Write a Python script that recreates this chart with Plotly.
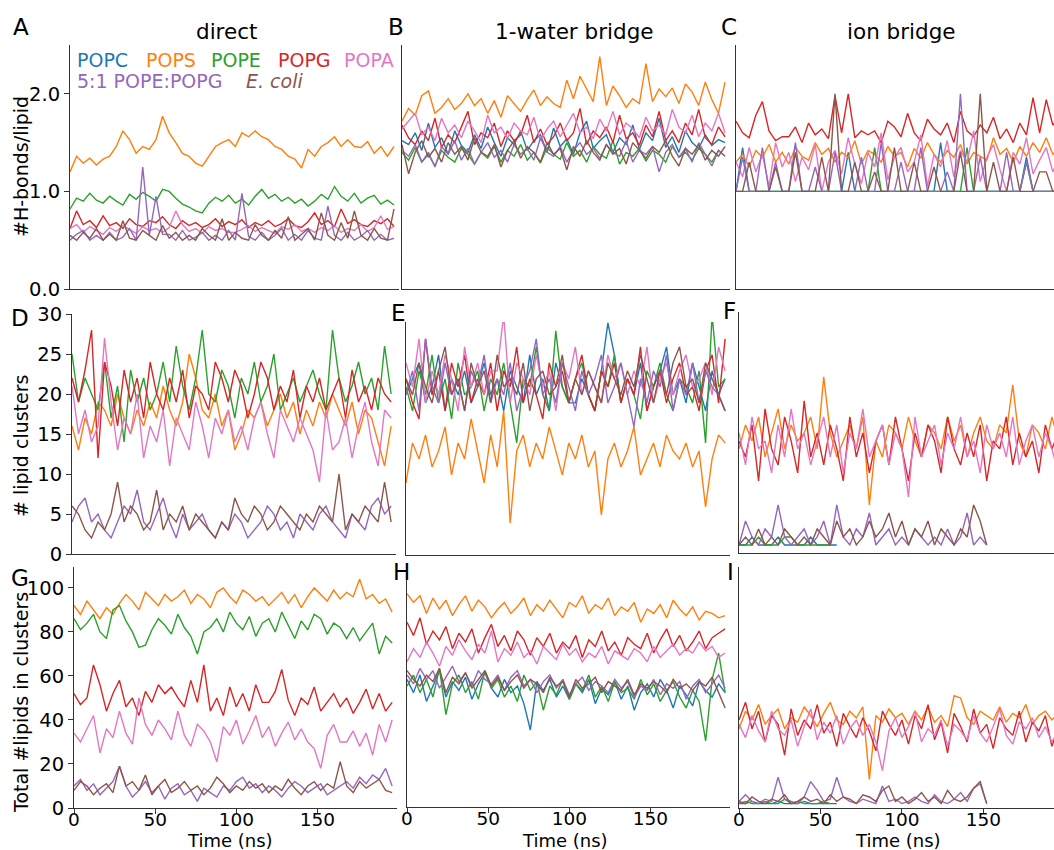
import plotly.graph_objects as go

W, H = 1054, 850
FONT = "DejaVu Sans"

# ---------------- data ----------------
TIME = list(range(0, 200, 4))          # ns, sampled every 4 ns
TIME_SHORT = list(range(0, 153, 4))     # shorter runs (5:1 and E. coli, ion bridge)

LIPIDS = ["POPC", "POPS", "POPE", "POPG", "POPA", "5:1 POPE:POPG", "E. coli"]
COLORS = ["#1f77b4", "#ff7f0e", "#2ca02c", "#d62728", "#e377c2", "#9467bd", "#8c564b"]

# A: direct, H-bonds per lipid
A_POPS = [1.20,1.36,1.29,1.34,1.27,1.33,1.36,1.46,1.62,1.53,
          1.39,1.46,1.43,1.53,1.77,1.60,1.50,1.39,1.36,1.29,
          1.26,1.36,1.46,1.50,1.53,1.46,1.60,1.56,1.62,1.56,
          1.53,1.46,1.43,1.36,1.33,1.24,1.43,1.36,1.46,1.50,
          1.56,1.46,1.53,1.46,1.45,1.51,1.39,1.46,1.36,1.46]
A_POPE = [0.82,0.93,0.90,0.98,0.91,0.88,0.95,0.90,0.86,0.97,
          0.92,0.99,0.95,0.90,1.02,1.00,0.93,0.87,0.84,0.80,
          0.78,0.88,0.94,0.90,0.96,0.88,0.92,0.86,0.95,1.02,
          0.93,0.97,0.90,0.94,0.88,0.92,0.85,0.90,0.97,0.92,
          1.05,0.95,0.90,0.98,0.88,0.93,0.96,0.87,0.91,0.86]
A_POPG = [0.62,0.80,0.66,0.70,0.63,0.75,0.65,0.68,0.62,0.72,
          0.66,0.64,0.70,0.68,0.74,0.66,0.62,0.70,0.65,0.68,
          0.63,0.66,0.72,0.64,0.69,0.66,0.71,0.63,0.68,0.65,
          0.70,0.64,0.67,0.72,0.65,0.63,0.69,0.78,0.66,0.70,
          0.64,0.82,0.67,0.71,0.66,0.64,0.70,0.67,0.72,0.64]
A_POPA = [0.62,0.66,0.58,0.64,0.60,0.56,0.63,0.59,0.65,0.61,
          0.57,0.64,0.60,0.62,0.58,0.63,0.80,0.66,0.59,0.62,
          0.57,0.64,0.60,0.62,0.58,0.58,0.61,0.65,0.59,0.63,
          0.60,0.57,0.64,0.61,0.66,0.59,0.62,0.58,0.63,0.60,
          0.65,0.58,0.62,0.60,0.66,0.59,0.63,0.75,0.61,0.64]
A_MIX = [0.50,0.56,0.60,0.50,0.55,0.50,0.58,0.50,0.53,0.62,
         0.50,1.25,0.55,0.95,0.56,0.56,0.50,0.60,0.50,0.53,
         0.58,0.50,0.55,0.50,0.60,0.50,0.98,0.54,0.50,0.58,
         0.50,0.55,0.62,0.50,0.56,0.50,0.60,0.52,0.50,0.85,
         0.55,0.50,0.58,0.50,0.54,0.60,0.50,0.56,0.50,0.52]
A_ECOLI = [0.55,0.50,0.58,0.52,0.62,0.50,0.56,0.50,0.70,0.52,
           0.50,0.60,0.55,0.50,0.65,0.52,0.58,0.50,0.55,0.50,
           0.62,0.55,0.50,0.72,0.50,0.58,0.52,0.50,0.66,0.55,
           0.50,0.60,0.52,0.74,0.50,0.56,0.62,0.50,0.78,0.55,
           0.50,0.68,0.52,0.80,0.55,0.50,0.62,0.52,0.50,0.82]

# B: 1-water bridge, H-bonds per lipid
B_POPC = [1.52,1.48,1.60,1.42,1.70,1.45,1.55,1.38,1.62,1.47,
          1.40,1.58,1.44,1.66,1.50,1.36,1.55,1.48,1.62,1.42,
          1.52,1.58,1.40,1.65,1.46,1.54,1.38,1.60,1.72,1.44,
          1.52,1.58,1.40,1.55,1.48,1.68,1.43,1.60,1.52,1.75,
          1.45,1.56,1.40,1.62,1.50,1.44,1.58,1.47,1.53,1.50]
B_POPS = [1.72,1.85,1.78,1.98,2.03,1.80,1.86,1.95,1.84,1.90,
          2.00,1.88,1.95,1.80,1.93,1.76,1.98,1.90,1.82,1.94,
          2.04,1.88,1.97,1.90,1.86,2.14,1.95,2.18,2.05,1.92,
          2.38,1.88,2.08,1.98,1.86,1.95,1.90,2.31,1.92,2.05,
          1.97,2.06,1.90,2.10,2.02,1.88,2.12,1.94,1.80,2.12]
B_POPE = [1.40,1.32,1.45,1.30,1.38,1.26,1.42,1.35,1.30,1.44,
          1.38,1.28,1.40,1.34,1.46,1.30,1.42,1.36,1.48,1.32,
          1.40,1.29,1.45,1.38,1.33,1.50,1.36,1.42,1.30,1.46,
          1.38,1.34,1.52,1.28,1.40,1.36,1.44,1.31,1.42,1.38,
          1.30,1.46,1.35,1.40,1.32,1.44,1.38,1.30,1.42,1.36]
B_POPG = [1.68,1.55,1.48,1.62,1.52,1.75,1.45,1.58,1.50,1.66,
          1.82,1.48,1.60,1.55,1.70,1.46,1.62,1.52,1.58,1.78,
          1.50,1.64,1.48,1.56,1.70,1.52,1.60,1.85,1.48,1.62,
          1.55,1.66,1.50,1.78,1.54,1.60,1.47,1.68,1.56,1.82,
          1.52,1.62,1.50,1.70,1.58,1.84,1.55,1.48,1.66,1.56]
B_POPA = [1.64,1.72,1.80,1.58,1.66,1.52,1.75,1.60,1.68,1.55,
          1.72,1.62,1.50,1.78,1.60,1.66,1.54,1.70,1.62,1.58,
          1.76,1.52,1.64,1.72,1.56,1.68,1.80,1.60,1.66,1.54,
          1.74,1.62,1.82,1.58,1.70,1.64,1.55,1.76,1.62,1.68,
          1.58,1.84,1.66,1.60,1.78,1.56,1.70,1.62,1.80,1.60]
B_MIX = [1.42,1.36,1.48,1.30,1.40,1.25,1.46,1.38,1.52,1.32,
         1.44,1.28,1.40,1.50,1.35,1.42,1.30,1.48,1.38,1.44,
         1.32,1.55,1.40,1.36,1.46,1.30,1.42,1.50,1.38,1.44,
         1.34,1.48,1.40,1.36,1.52,1.30,1.42,1.38,1.46,1.20,
         1.40,1.48,1.35,1.44,1.30,1.50,1.38,1.26,1.42,1.36]
B_ECOLI = [1.48,1.18,1.40,1.52,1.35,1.44,1.30,1.50,1.38,1.46,
           1.32,1.55,1.40,1.36,1.48,1.25,1.42,1.52,1.34,1.46,
           1.40,1.30,1.50,1.38,1.44,1.22,1.46,1.36,1.52,1.40,
           1.32,1.48,1.38,1.44,1.28,1.50,1.42,1.34,1.46,1.40,
           1.52,1.36,1.26,1.44,1.38,1.48,1.32,1.42,1.36,1.46]

# C: ion bridge, H-bonds per lipid
C_POPC = [1.0,1.45,1.0,1.0,1.0,1.0,1.0,1.0,1.0,1.0,
          1.0,1.0,1.0,1.0,1.0,1.0,1.0,1.40,1.0,1.0,
          1.0,1.0,1.0,1.0,1.0,1.0,1.0,1.0,1.0,1.0,
          1.0,1.50,1.0,1.0,1.0,1.0,1.0,1.0,1.0,1.0,
          1.0,1.0,1.0,1.0,1.35,1.0,1.0,1.0,1.0,1.0]
C_POPS = [1.30,1.38,1.25,1.42,1.35,1.48,1.30,1.40,1.28,1.45,
          1.36,1.32,1.50,1.38,1.44,1.30,1.40,1.35,1.52,1.28,
          1.42,1.38,1.30,1.46,1.36,1.40,1.25,1.44,1.34,1.50,
          1.38,1.30,1.42,1.35,1.48,1.28,1.40,1.36,1.32,1.55,
          1.38,1.44,1.30,1.46,1.36,1.50,1.40,1.55,1.38,1.45]
C_POPE = [1.0,1.0,1.0,1.0,1.0,1.0,1.0,1.0,1.0,1.0,
          1.0,1.0,1.0,1.0,1.0,1.0,1.0,1.0,1.0,1.0,
          1.0,1.45,1.0,1.0,1.0,1.0,1.0,1.0,1.0,1.0,
          1.0,1.0,1.0,1.0,1.0,1.45,1.0,1.0,1.0,1.0,
          1.0,1.0,1.0,1.0,1.30,1.0,1.0,1.0,1.0,1.0]
C_POPG = [1.72,1.60,1.55,1.78,1.92,1.62,1.52,1.56,1.56,1.66,
          1.50,1.70,1.58,1.64,1.54,1.98,1.60,2.00,1.55,1.62,
          1.58,1.62,1.50,1.72,1.66,1.56,1.80,1.60,1.52,1.74,
          1.64,1.58,1.70,1.50,1.82,1.62,1.56,1.68,1.60,1.76,
          1.54,1.64,1.50,1.70,1.58,1.96,1.60,1.94,1.68,1.75]
C_POPA = [1.30,1.15,1.45,1.20,1.38,1.05,1.50,1.25,1.40,1.10,
          1.35,1.22,1.48,1.00,1.30,1.42,1.18,1.55,1.28,1.08,
          1.40,1.25,1.60,1.12,1.35,1.45,1.20,1.30,1.58,1.05,
          1.38,1.25,1.52,1.15,1.42,1.30,1.62,1.10,1.35,1.48,
          1.22,1.00,1.40,1.28,1.55,1.18,1.32,1.45,1.20,1.35]
C_MIX = [1.0,1.35,1.0,1.0,1.45,1.0,1.3,1.0,1.0,1.5,
         1.0,1.0,1.25,1.0,1.0,1.4,1.0,1.0,1.0,1.35,
         1.0,1.0,1.5,1.0,1.0,1.3,1.0,1.0,1.45,1.0,
         1.0,1.0,1.2,1.0,2.0,1.0,1.0,1.35,1.0,1.0,
         1.0,1.4,1.0,1.0,1.3,1.0,1.0,1.0,1.0,1.0]
C_ECOLI = [1.0,1.0,1.3,1.0,1.0,1.0,1.25,1.0,1.0,1.4,
           1.0,1.0,1.0,1.35,1.0,2.0,1.0,1.0,1.3,1.0,
           1.0,1.2,1.0,1.0,1.45,1.0,1.0,1.3,1.0,1.0,
           1.25,1.0,1.0,1.0,1.4,1.0,1.0,2.0,1.0,1.3,
           1.0,1.0,1.35,1.0,1.0,1.0,1.2,1.2,1.0,1.0]

# D: direct, number of lipid clusters
D_POPS = [16,13,17,15,19,18,16,20,17,15, 18,16,19,17,21,18,16,19,25,22,
          18,17,20,16,18,13,15,18,17,19, 16,18,20,17,19,15,18,16,19,17,
          20,18,16,19,15,18,17,14,11,16]
D_POPE = [25,19,22,20,18,24,17,21,14,23, 19,22,18,20,24,19,26,21,18,22,
          28,20,19,23,21,17,22,20,24,19, 21,25,18,20,22,19,21,23,20,18,
          28,22,19,21,24,20,22,18,26,20]
D_POPG = [22,19,23,28,12,24,21,16,23,19, 22,17,24,20,18,22,19,23,17,21,
          20,18,24,22,19,23,21,17,20,24, 22,18,21,19,23,17,21,19,22,18,
          20,22,17,23,19,21,18,22,20,19]
D_POPA = [21,15,18,14,16,27,19,13,17,15, 20,12,16,14,18,11,17,15,13,19,
          16,12,17,15,18,14,16,13,17,19, 15,12,18,16,14,17,15,13,9,18,
          13,14,17,12,16,19,14,11,18,17]
D_MIX = [4,6,7,4,5,3,2,4,6,5, 8,4,3,5,7,4,2,5,3,4, 5,3,2,4,3,5,4,2,3,4,
         6,5,3,4,2,5,4,3,5,6, 4,3,2,5,4,3,6,7,5,6]
D_ECOLI = [6,5,3,2,4,3,5,9,4,6, 5,3,4,8,3,5,4,6,3,5, 4,3,2,4,3,7,5,4,6,5,
           3,4,6,5,4,3,5,4,6,5, 4,10,3,5,4,6,5,4,9,4]

# E: 1-water bridge, number of lipid clusters
E_POPC = [20,22,24,19,21,25,18,22,20,23, 19,21,24,20,22,18,23,21,19,25,
          20,22,18,24,21,19,19,22,20,18, 23,29,25,19,22,20,24,18,21,23,
          26,20,22,19,24,21,18,23,20,22]
E_POPS = [9,14,12,15,11,13,16,10,14,12, 17,13,9,15,11,18,4,13,15,11,
          14,12,16,13,10,14,12,15,11,13, 5,12,14,11,13,16,10,12,14,11,
          15,13,12,14,11,13,6,12,15,14]
E_POPE = [21,18,23,20,25,19,22,17,24,20, 21,23,18,22,20,24,19,14,22,21,
          26,20,18,28,21,19,22,24,20,18, 23,21,25,19,22,20,17,23,21,24,
          20,18,22,21,19,23,14,30,21,22]
E_POPG = [22,19,17,27,20,23,18,24,21,25, 19,22,20,24,18,23,21,26,19,22,
          20,17,24,21,23,19,22,25,20,18, 23,21,24,19,22,20,26,18,21,23,
          19,22,24,20,21,18,23,25,19,27]
E_POPA = [24,21,27,19,23,20,25,22,18,26, 21,24,20,23,23,30,19,24,22,20,
          25,21,23,18,24,22,26,20,23,21, 19,25,22,24,20,23,21,26,19,22,
          24,20,23,25,21,22,24,20,26,23]
E_MIX = [20,23,18,27,21,19,24,20,22,18, 23,21,25,19,22,20,24,18,21,23,
         27,20,22,19,24,21,18,23,20,22, 25,19,21,24,20,16,22,19,23,21,
         25,18,22,20,24,19,23,21,20,18]
E_ECOLI = [22,20,24,21,19,23,26,20,22,18, 24,21,23,19,25,21,22,20,24,18,
           22,23,20,21,25,19,22,20,23,21, 19,24,22,20,23,21,25,22,19,23,
           20,24,26,21,22,19,24,22,20,18]

# F: ion bridge, number of lipid clusters
F_POPC = [1,1,2,1,1,1,2,1,1,1,1,2,1,1,1,1]
F_POPE = [1,1,1,2,1,1,1,2,2,1,1,1,1,1,1]
F_POPS = [13,16,14,17,12,15,18,13,16,14, 15,17,13,22,15,12,14,16,13,17,
          6,14,12,16,15,13,17,14,12,16, 15,13,17,14,16,12,15,17,14,13,
          16,15,21,14,12,16,15,13,17,14]
F_POPG = [14,12,16,9,18,13,11,17,14,10, 19,12,15,11,16,13,9,17,12,15,
          10,14,16,11,17,13,9,15,12,16, 14,10,17,13,11,15,12,16,9,14,
          13,17,11,15,12,14,10,16,13,15]
F_POPA = [15,11,17,13,14,10,16,12,18,13, 15,11,14,17,12,16,10,15,13,18,
          12,14,16,11,15,13,7,17,12,14, 16,11,15,13,17,12,14,10,16,13,
          15,12,17,11,14,16,12,15,13,10]
F_MIX = [1,4,2,1,3,2,6,2,1,2, 3,1,2,4,1,6,2,1,3,2, 5,1,2,3,1,2,1,3,2,1,
         2,1,3,1,2,5,1,2,1]
F_ECOLI = [1,2,1,3,1,2,1,3,2,1, 2,1,3,2,1,4,2,3,1,2, 4,2,3,5,2,4,1,3,2,4,
           1,3,2,1,3,2,6,4,1]

# G: direct, total lipids in clusters
G_POPS = [92,88,94,90,86,91,88,93,97,94, 90,98,95,92,97,94,96,99,93,97,
          95,91,98,100,96,93,99,97,94,96, 92,95,98,93,97,91,96,100,97,94,
          99,95,98,96,104,95,97,93,95,89]
G_POPE = [86,81,84,88,80,77,90,92,85,80, 73,74,81,86,83,79,88,82,78,70,
          80,82,86,80,89,84,81,87,78,84, 86,80,89,83,77,85,81,88,86,79,
          84,82,77,82,76,80,84,70,78,75]
G_POPG = [52,47,50,65,56,44,52,58,46,50, 42,53,48,56,52,55,50,46,58,48,
          65,44,50,42,55,46,52,44,56,48, 48,53,63,49,42,50,47,55,44,48,
          52,46,50,43,48,54,45,52,44,48]
G_POPA = [34,30,36,42,25,36,32,44,34,29, 50,38,33,40,36,31,44,33,28,38,
          35,30,21,37,33,40,29,35,42,32, 37,28,34,39,31,36,30,27,18,33,
          38,30,30,35,28,34,24,38,30,40]
G_MIX = [10,13,8,11,6,9,12,19,10,5, 8,12,7,10,4,9,11,6,8,3, 9,7,5,10,8,12,14,9,11,7,
         10,8,5,9,12,10,7,9,11,6, 8,10,12,9,14,11,15,13,18,10]
G_ECOLI = [8,12,10,6,9,11,7,19,10,12, 8,15,6,10,13,7,9,12,8,10, 6,9,14,11,7,10,8,12,9,11,
           7,10,8,13,9,6,10,12,8,11, 9,21,10,7,12,9,11,13,8,7]

# H: 1-water bridge, total lipids in clusters
H_POPC = [58,52,60,48,55,62,50,57,53,59, 49,56,61,54,50,58,52,55,47,35,
          57,53,58,50,55,49,56,52,58,47, 54,51,57,49,55,44,52,56,50,58,
          53,45,55,51,46,57,53,50,56,52]
H_POPS = [97,93,96,88,95,90,94,87,92,96, 89,94,91,86,90,93,88,91,95,87,
          92,89,94,90,86,93,91,96,88,92, 90,95,87,91,89,93,84,90,88,92,
          86,94,90,87,91,85,89,88,86,87]
H_POPE = [55,60,52,58,50,63,42,56,60,52, 57,49,62,54,58,50,55,48,60,53,
          57,44,55,51,58,49,56,53,60,50, 55,48,57,52,54,49,58,51,56,48,
          53,57,50,45,53,48,30,58,70,52]
H_POPG = [84,78,86,74,80,76,82,72,79,75, 81,70,77,83,73,78,71,80,76,69,
          77,73,79,70,75,72,78,68,76,73, 80,71,75,69,77,74,72,79,70,76,
          81,73,78,71,75,80,72,77,79,81]
H_POPA = [66,72,68,75,70,64,73,69,76,71, 67,74,70,80,66,72,69,75,68,71,
          65,73,70,67,74,69,72,66,70,68, 73,65,71,69,67,72,70,66,73,68,
          71,74,69,72,70,75,71,73,68,70]
H_MIX = [60,56,63,58,62,54,59,64,57,61, 55,62,58,56,60,53,59,62,55,58,
         52,57,60,54,58,51,56,59,53,57, 55,52,58,54,57,50,55,53,58,51,
         56,54,57,49,55,58,52,56,60,54]
H_ECOLI = [62,58,55,60,57,63,52,59,56,61, 54,58,62,55,59,53,57,60,54,58,
           56,52,59,55,57,50,58,54,56,59, 52,57,55,53,58,51,56,54,57,55,
           52,58,54,56,53,57,55,59,52,45]

# I: ion bridge, total lipids in clusters
I_POPC = [2,2,3,2,2,2,3,2,2,2,3,2,2,2,2,2]
I_POPE = [2,3,2,2,3,2,2,4,2,3,2,2,2,3,2]
I_POPS = [36,44,40,47,38,42,45,36,41,39, 46,42,37,43,48,40,38,44,41,46,
          13,42,39,45,41,43,38,44,40,46, 39,42,37,51,50,41,38,44,42,40,
          46,39,43,41,47,38,42,44,40,43]
I_POPG = [40,48,36,44,30,42,38,24,45,33, 40,36,47,34,39,28,43,37,32,41,
          35,26,44,38,33,40,29,42,36,47, 31,39,25,43,37,30,45,34,38,27,
          41,36,33,44,30,39,35,42,28,37]
I_POPA = [38,32,42,35,30,44,36,33,40,28, 37,45,31,39,34,42,29,36,40,33,
          38,30,17,35,41,32,37,44,30,36, 33,40,28,38,35,31,42,34,30,37,
          45,33,29,39,36,41,32,37,30,35]
I_MIX = [3,6,3,2,4,3,14,4,3,2, 5,12,8,3,4,14,5,3,2,4, 3,2,10,3,4,2,3,5,3,2,
         6,3,2,4,7,3,9,11,2]
I_ECOLI = [3,2,5,3,2,4,3,6,2,3, 5,3,4,2,6,3,5,4,2,6, 5,3,8,10,3,5,2,4,7,3,
           5,2,8,4,3,5,9,12,2]

ROW_TITLES = ["#H-bonds/lipid", "# lipid clusters", "Total #lipids in clusters"]
COL_TITLES = ["direct", "1-water bridge", "ion bridge"]
Y_TICKS = [[0.0, 1.0, 2.0], [0, 5, 10, 15, 20, 25, 30], [0, 20, 40, 60, 80, 100]]
X_TICKS = [0, 50, 100, 150]

PANELS = {
    "A": [None, A_POPS, A_POPE, A_POPG, A_POPA, A_MIX, A_ECOLI],
    "B": [B_POPC, B_POPS, B_POPE, B_POPG, B_POPA, B_MIX, B_ECOLI],
    "C": [C_POPC, C_POPS, C_POPE, C_POPG, C_POPA, C_MIX, C_ECOLI],
    "D": [None, D_POPS, D_POPE, D_POPG, D_POPA, D_MIX, D_ECOLI],
    "E": [E_POPC, E_POPS, E_POPE, E_POPG, E_POPA, E_MIX, E_ECOLI],
    "F": [F_POPC, F_POPS, F_POPE, F_POPG, F_POPA, F_MIX, F_ECOLI],
    "G": [None, G_POPS, G_POPE, G_POPG, G_POPA, G_MIX, G_ECOLI],
    "H": [H_POPC, H_POPS, H_POPE, H_POPG, H_POPA, H_MIX, H_ECOLI],
    "I": [I_POPC, I_POPS, I_POPE, I_POPG, I_POPA, I_MIX, I_ECOLI],
}

# ---------------- layout geometry (pixels) ----------------
# name: (left, right, top, bottom, xmax, ymax, row, col)
GEOM = {
    "A": (70, 399, 45, 289, 199, 2.5, 0, 0),
    "B": (402, 730, 45, 289, 199, 2.5, 0, 1),
    "C": (736, 1054, 45, 289, 192.7, 2.5, 0, 2),
    "D": (72, 396, 314, 554, 199, 30, 1, 0),
    "E": (406, 730, 322, 555, 199, 29.1, 1, 1),
    "F": (739, 1054, 312, 553, 193.3, 30.1, 1, 2),
    "G": (74, 397, 567, 808, 199, 109.5, 2, 0),
    "H": (407, 730, 580, 807, 199, 103.2, 2, 1),
    "I": (739, 1054, 567, 808, 193.3, 109.5, 2, 2),
}

def px(x):
    return x / W

def py(y):
    return 1 - y / H

fig = go.Figure()
layout = dict(template="none", width=W, height=H, autosize=False,
              margin=dict(l=0, r=0, t=0, b=0, pad=0),
              paper_bgcolor="white", plot_bgcolor="white",
              showlegend=False, font=dict(family=FONT, size=19, color="black"))

AX = dict(showgrid=False, zeroline=False, showline=True, linecolor="#333",
          linewidth=1, tickcolor="#333", tickwidth=1, ticklen=5,
          automargin=False,
          tickfont=dict(family=FONT, size=19.5, color="black"))

for i, (name, series) in enumerate(PANELS.items(), start=1):
    l, r, t, b, xmax, ymax, row, col = GEOM[name]
    xa = "x" if i == 1 else f"x{i}"
    ya = "y" if i == 1 else f"y{i}"
    for lip, col_, ys in zip(LIPIDS, COLORS, series):
        if ys is None:
            continue
        tt = TIME if len(ys) > len(TIME_SHORT) else (TIME_SHORT if len(ys) == len(TIME_SHORT) else TIME[:len(ys)])
        fig.add_trace(go.Scatter(x=tt, y=ys, mode="lines", name=lip,
                                 line=dict(color=col_, width=1.4),
                                 xaxis=xa, yaxis=ya, hoverinfo="skip"))
    xkey = "xaxis" if i == 1 else f"xaxis{i}"
    ykey = "yaxis" if i == 1 else f"yaxis{i}"
    layout[xkey] = dict(AX, domain=[px(l), px(r)], range=[0, xmax], anchor=ya,
                        tickvals=X_TICKS if row == 2 else [],
                        ticks="outside" if row == 2 else "",
                        ticklabelstandoff=-10,
                        tickfont=dict(family=FONT, size=18.5, color="black"),
                        showticklabels=(row == 2))
    layout[ykey] = dict(AX, domain=[py(b), py(t)], range=[0, ymax], anchor=xa,
                        tickvals=Y_TICKS[row] if col == 0 else [],
                        ticktext=([f"{v:.1f}" for v in Y_TICKS[0]] if row == 0 else [str(v) for v in Y_TICKS[row]]) if col == 0 else [],
                        ticks="outside" if col == 0 else "",
                        showticklabels=(col == 0))

ann = []
def text(x, y, s, size=19, color="black", xanchor="center", angle=0):
    ann.append(dict(x=px(x), y=py(y), xref="paper", yref="paper", text=s,
                    showarrow=False, xanchor=xanchor, yanchor="middle",
                    textangle=angle, borderpad=0,
                    font=dict(family=FONT, size=size, color=color)))

# panel letters
for s, (x, y) in zip("ABCDEFGHI", [(21, 27), (396, 27), (729, 27), (20, 318), (398, 313),
                                   (729, 311), (20, 578), (401, 572), (730, 572)]):
    text(x, y, s, size=23)

# column titles
for s, x in zip(COL_TITLES, [226, 574, 901]):
    text(x, 32, s, size=21.5)

# row titles
for s, y in zip(ROW_TITLES, [167, 446, 703]):
    text(21, y, s, angle=-90)

# x titles
for x in [230, 565, 898]:
    text(x, 840, "Time (ns)", size=18)

# legend (coloured labels)
for s, c, x in zip(LIPIDS[:5], COLORS[:5], [76, 145, 210, 277, 343]):
    text(x, 60, s, color=c, xanchor="left")
text(76, 81, LIPIDS[5], color=COLORS[5], xanchor="left")
text(245, 81, "<i>" + LIPIDS[6] + "</i>", color=COLORS[6], xanchor="left")

layout["annotations"] = ann
fig.update_layout(**layout)
fig.write_html("out.html", config={"displayModeBar": False},
               post_script="document.body.style.margin='0';document.body.style.overflow='hidden';")
